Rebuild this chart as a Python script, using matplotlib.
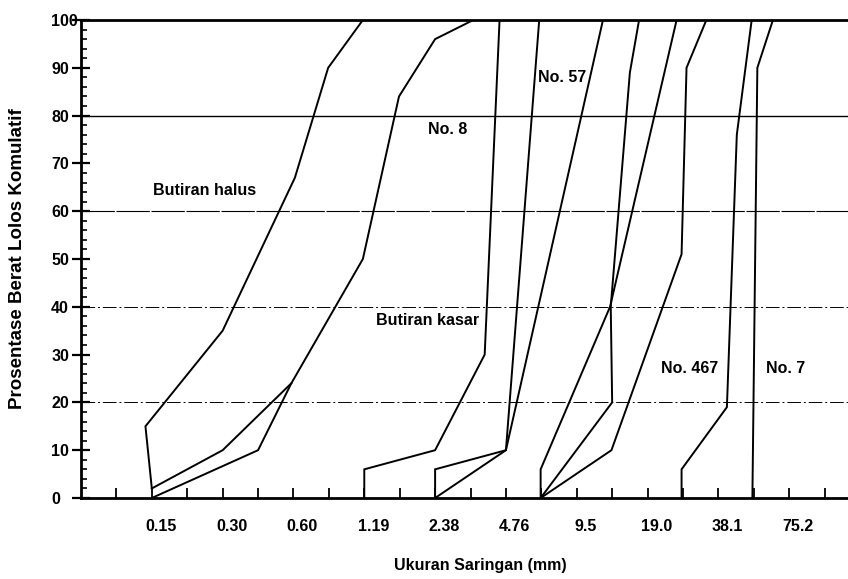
import matplotlib
matplotlib.use('Agg')
import matplotlib.pyplot as plt
from matplotlib.transforms import ScaledTranslation
import numpy as np

plt.rcParams['font.family'] = ['Liberation Sans', 'DejaVu Sans']
plt.rcParams['font.weight'] = 'bold'

# ukuran saringan (mm), satu posisi per label pada sumbu x
ukuran = ['0.15', '0.30', '0.60', '1.19', '2.38', '4.76', '9.5', '19.0', '38.1', '75.2']

# kurva gradasi: posisi pada skala saringan (indeks) dan persen lolos
halus_atas_x = [0.0, -0.09, 1.0, 2.02, 2.49, 2.98]
halus_atas_y = [2, 15, 35, 67, 90, 100]
halus_tengah_x = [0.0, 1.0, 1.97]
halus_tengah_y = [2, 10, 24]
halus_bawah_x = [0.0, 1.5, 1.97, 2.98, 3.49, 4.0, 4.54]
halus_bawah_y = [0, 10, 24, 50, 84, 96, 100]

no8_a_x = [3.0, 3.0, 4.0, 4.7, 4.91]
no8_a_y = [0, 6, 10, 30, 100]
no8_b_x = [4.0, 4.0, 5.0, 5.47]
no8_b_y = [0, 6, 10, 100]
no57_a_x = [4.0, 5.0, 6.37]
no57_a_y = [0, 10, 100]

no57_b_x = [5.49, 5.49, 6.47, 7.41]
no57_b_y = [0, 6, 40, 100]
no57_c_x = [5.49, 6.5, 6.48, 6.75, 6.88]
no57_c_y = [0, 20, 40, 89, 100]
no467_a_x = [5.49, 6.49, 7.48, 7.55, 7.83]
no467_a_y = [0, 10, 51, 90, 100]
no467_b_x = [7.48, 7.48, 8.12, 8.26, 8.47]
no467_b_y = [0, 6, 19, 76, 100]
no7_x = [8.48, 8.55, 8.77]
no7_y = [0, 90, 100]

curves = [
    (halus_atas_x, halus_atas_y),
    (halus_tengah_x, halus_tengah_y),
    (halus_bawah_x, halus_bawah_y),
    (no8_a_x, no8_a_y),
    (no8_b_x, no8_b_y),
    (no57_a_x, no57_a_y),
    (no57_b_x, no57_b_y),
    (no57_c_x, no57_c_y),
    (no467_a_x, no467_a_y),
    (no467_b_x, no467_b_y),
    (no7_x, no7_y),
]

fig = plt.figure(figsize=(8.48, 5.79), dpi=100)
ax = fig.add_axes([81 / 848, 81 / 579, 767 / 848, 478 / 579])
ax.set_xlim(-1.0, 9.83)
ax.set_ylim(0, 100)

# garis bantu horizontal
ax.axhline(80, color='black', lw=1.0, zorder=1)
ax.axhline(60, color='black', lw=0.8, dashes=(30, 1.5), zorder=1)
for lvl in (40, 20):
    ax.axhline(lvl, color='black', lw=0.7, dashes=(14, 3, 2, 3), zorder=1)

for x, y in curves:
    ax.plot(x, y, color='black', lw=1.4, solid_joinstyle='miter', zorder=3)

for side in ('left', 'bottom', 'top'):
    ax.spines[side].set_linewidth(2.0)
ax.spines['right'].set_visible(False)

# sumbu y
ax.set_yticks(np.arange(0, 101, 10))
ax.set_yticks(np.arange(0, 101, 2), minor=True)
ax.tick_params(axis='y', which='major', direction='inout', length=13, width=1.6,
               labelsize=11.5, pad=15)
ax.tick_params(axis='y', which='minor', direction='in', length=4.5, width=1.2)
for lab in ax.get_yticklabels():
    lab.set_horizontalalignment('left')

# sumbu x: tanda tiap setengah langkah, label pada tiap saringan
ax.set_xticks(np.arange(-0.5, 9.51, 0.5))
ax.set_xticklabels(['' if t % 1 else ukuran[int(t)] if 0 <= t <= 9 else ''
                    for t in np.arange(-0.5, 9.51, 0.5)])
ax.tick_params(axis='x', direction='in', length=7.5, width=1.3, labelsize=11.5, pad=15)
shift = ScaledTranslation(9 / 100, 0, fig.dpi_scale_trans)
for lab in ax.get_xticklabels():
    lab.set_transform(lab.get_transform() + shift)

ax.set_ylabel('Prosentase Berat Lolos Komulatif', fontsize=13.5, fontweight='bold')
ax.yaxis.set_label_coords(-0.072, 0.50)
ax.set_xlabel('Ukuran Saringan (mm)', fontsize=11.5, fontweight='bold')
ax.xaxis.set_label_coords(0.52, -0.125)

# keterangan jenis gradasi
ax.text(0.75, 64.3, 'Butiran halus', fontsize=11.5, ha='center', va='center')
ax.text(4.17, 77, 'No. 8', fontsize=11.5, ha='center', va='center')
ax.text(5.79, 88, 'No. 57', fontsize=11.5, ha='center', va='center')
ax.text(3.9, 37.2, 'Butiran kasar', fontsize=11.5, ha='center', va='center')
ax.text(7.59, 27, 'No. 467', fontsize=11.5, ha='center', va='center')
ax.text(8.95, 27, 'No. 7', fontsize=11.5, ha='center', va='center')

fig.savefig('out.png', dpi=100)
